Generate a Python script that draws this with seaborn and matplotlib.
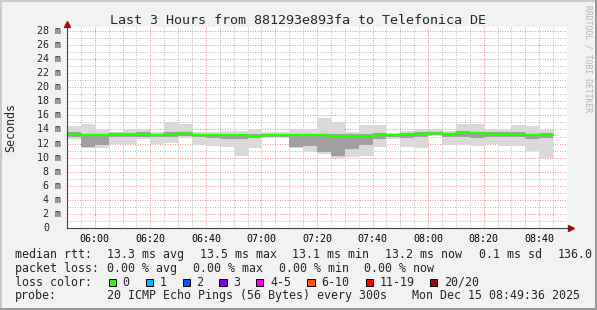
import numpy as np
import pandas as pd
import matplotlib
matplotlib.use("Agg")
import matplotlib.pyplot as plt
import matplotlib.transforms as mtransforms
from matplotlib.patches import Rectangle
from matplotlib.ticker import FixedLocator, MultipleLocator
import seaborn as sns

# ---------------- data (ms) ----------------
slot_start = ["05:50", "05:55", "06:00", "06:05", "06:10", "06:15", "06:20", "06:25",
              "06:30", "06:35", "06:40", "06:45", "06:50", "06:55", "07:00", "07:05",
              "07:10", "07:15", "07:20", "07:25", "07:30", "07:35", "07:40", "07:45",
              "07:50", "07:55", "08:00", "08:05", "08:10", "08:15", "08:20", "08:25",
              "08:30", "08:35", "08:40"]
median_ms = [13.35, 13.25, 13.25, 13.35, 13.35, 13.35, 13.2, 13.35, 13.45, 13.2,
             13.2, 13.15, 13.15, 13.1, 13.15, 13.15, 13.15, 13.25, 13.15, 13.1,
             13.1, 13.1, 13.25, 13.25, 13.3, 13.4, 13.45, 13.35, 13.5, 13.45,
             13.35, 13.4, 13.4, 13.15, 13.2]
min_ms = [12.6, 11.3, 11.4, 11.9, 11.9, 12.7, 11.9, 12.1, 12.8, 11.8,
          11.7, 11.5, 10.3, 11.3, 12.9, 12.9, 11.3, 10.8, 10.5, 10.0,
          10.1, 10.2, 11.5, 12.7, 11.5, 11.4, 13.1, 11.8, 11.8, 11.6,
          12.0, 11.7, 11.7, 11.0, 10.0]
lo_ms = [12.9, 11.5, 11.8, 12.9, 12.9, 13.0, 12.9, 13.0, 13.1, 12.9,
         12.8, 12.6, 12.7, 12.8, 12.9, 12.9, 11.5, 11.6, 10.8, 10.3,
         11.2, 11.8, 12.7, 12.9, 12.8, 12.9, 13.2, 12.9, 13.0, 12.8,
         12.9, 12.9, 12.9, 12.7, 12.8]
hi_ms = [13.6, 13.4, 13.4, 13.5, 13.5, 13.6, 13.4, 13.6, 13.6, 13.4,
         13.4, 13.4, 13.4, 13.3, 13.4, 13.4, 13.3, 13.4, 13.4, 13.3,
         13.3, 13.4, 13.5, 13.4, 13.5, 13.7, 13.7, 13.5, 13.8, 13.7,
         13.6, 13.6, 13.6, 13.4, 13.5]
max_ms = [14.5, 14.8, 14.0, 13.7, 14.0, 14.0, 13.7, 15.0, 14.8, 13.6,
          13.6, 13.8, 13.8, 14.0, 13.6, 13.6, 14.0, 14.0, 15.6, 15.1,
          13.7, 14.7, 14.6, 13.5, 13.8, 14.0, 14.0, 13.8, 14.8, 14.8,
          14.0, 13.9, 14.7, 14.5, 13.9]
time_ticks = ["06:00", "06:20", "06:40", "07:00", "07:20", "07:40", "08:00", "08:20", "08:40"]
y_ticks = [0, 2, 4, 6, 8, 10, 12, 14, 16, 18, 20, 22, 24, 26, 28]

loss_labels = ["0", "1", "2", "3", "4-5", "6-10", "11-19", "20/20"]
loss_colors = ["#26ff00", "#00b8ff", "#0059ff", "#7e00ff", "#ff00ff", "#ff5500", "#ff0000", "#a00000"]

title = "Last 3 Hours from 881293e893fa to Telefonica DE"
line1 = ["median rtt:", "13.3 ms avg", "13.5 ms max", "13.1 ms min", "13.2 ms now", "0.1 ms sd", "136.0"]
line2 = ["packet loss:", "0.00 % avg", "0.00 % max", "0.00 % min", "0.00 % now"]
line4 = ["probe:", "20 ICMP Echo Pings (56 Bytes) every 300s", "Mon Dec 15 08:49:36 2025"]

# ---------------- layout ----------------
W, H = 597, 310
BG = "#f2f2f2"
START = 5 * 60 + 50
SLOT = 5


def tmin(s):
    return int(s[:2]) * 60 + int(s[3:]) - START


sns.set_theme(style="white")
plt.rcParams["font.family"] = ["DejaVu Sans Mono", "DejaVu Sans"]

fig = plt.figure(figsize=(W / 100, H / 100), dpi=100, facecolor=BG)
ax = fig.add_axes([67 / W, (H - 228) / H, 500 / W, 201 / H])
ax.set_facecolor("white")
ax.set_xlim(0, 180)
ax.set_ylim(0, 201 / 7.036)

t = np.array([tmin(s) for s in slot_start])
t_edges = np.append(t, t[-1] + SLOT)


def ext(a):
    a = np.asarray(a, dtype=float)
    return np.append(a, a[-1])


ax.fill_between(t_edges, ext(min_ms), ext(max_ms), step="post", color="#d9d9d9", lw=0, zorder=1)
ax.fill_between(t_edges, ext(lo_ms), ext(hi_ms), step="post", color="#a0a0a0", lw=0, zorder=1.1)

line_df = pd.DataFrame({"t": t_edges, "rtt": ext(median_ms)})
sns.lineplot(data=line_df, x="t", y="rtt", drawstyle="steps-post", color="#26ff00",
             lw=1.7, ax=ax, zorder=3)
ax.set_xlabel("")
ax.set_ylabel("")

# grid (below the smoke)
ax.set_axisbelow(True)
ax.xaxis.set_major_locator(FixedLocator([tmin(s) for s in time_ticks]))
ax.xaxis.set_minor_locator(MultipleLocator(5))
ax.yaxis.set_major_locator(FixedLocator(y_ticks))
ax.yaxis.set_minor_locator(MultipleLocator(1))
ax.grid(which="minor", color="#bdbdbd", lw=0.72, ls=(0, (1, 1.5)))
ax.grid(which="major", color="#f09090", lw=0.72, ls=(0, (1, 1.5)))

ax.set_xticklabels(time_ticks, fontsize=7.2)
ax.set_yticklabels([])
ax.tick_params(axis="x", which="major", length=0, pad=4.6, colors="black")
ax.tick_params(axis="x", which="minor", length=0)
ax.tick_params(axis="y", which="major", length=2.6, width=0.72, color="#444444", pad=0)
ax.tick_params(axis="y", which="minor", length=0)

for side in ["top", "right"]:
    ax.spines[side].set_visible(False)
for side in ["left", "bottom"]:
    ax.spines[side].set_color("#444444")
    ax.spines[side].set_linewidth(0.8)
    ax.spines[side].set_zorder(4)

# y tick labels (pixel x, data y)
trans_y = mtransforms.blended_transform_factory(mtransforms.IdentityTransform(), ax.transData)
for v in y_ticks:
    if v == 0:
        ax.text(49, v, "0", transform=trans_y, ha="right", va="center", fontsize=7.2, clip_on=False)
    else:
        ax.text(61, v, f"{v} m", transform=trans_y, ha="right", va="center", fontsize=7.2, clip_on=False)


def px(x, y):
    return x / W, 1 - y / H


# arrows
fig.lines.append(plt.Line2D([px(67, 0)[0]], [px(0, 24)[1]], marker="^", markersize=4.2,
                            color="#9a1010", transform=fig.transFigure))
fig.lines.append(plt.Line2D([px(567, 0)[0], px(570, 0)[0]], [px(0, 228)[1]] * 2, lw=0.8,
                            color="#444444", transform=fig.transFigure))
fig.lines.append(plt.Line2D([px(571, 0)[0]], [px(0, 228)[1]], marker=">", markersize=4.2,
                            color="#9a1010", transform=fig.transFigure))

# title and labels
fig.text(*px(298, 24), title, ha="center", va="baseline", fontsize=9.6)
fig.text(*px(11, 127), "Seconds", rotation=90, ha="center", va="center", fontsize=8.4)
fig.text(*px(588, 5), "RRDTOOL / TOBI OETIKER", rotation=270, ha="center", va="top",
         fontsize=5.8, color="#b4b4b4")

# legend
LFS = 8.4
x1 = [16, 107.3, 201, 293, 386, 479.3, 558.3]
for s, x in zip(line1, x1):
    fig.text(*px(x - 0.7, 258), s, ha="left", va="baseline", fontsize=LFS)
x2 = [16, 107.3, 193.3, 279.3, 365]
for s, x in zip(line2, x2):
    fig.text(*px(x - 0.7, 271.7), s, ha="left", va="baseline", fontsize=LFS)
fig.text(*px(15.3, 285.5), "loss color:", ha="left", va="baseline", fontsize=LFS)
box_x = [108.7, 145.7, 182.7, 219.3, 256, 307.3, 366, 430]
lab_x = [123.3, 160.3, 197, 234, 270.7, 321.7, 380, 445]
for lab, col, bx, lx in zip(loss_labels, loss_colors, box_x, lab_x):
    fig.patches.append(Rectangle(px(bx, 286), 7.3 / W, 7.5 / H, transform=fig.transFigure,
                                 facecolor=col, edgecolor="black", lw=0.7))
    fig.text(*px(lx - 0.7, 285.5), lab, ha="left", va="baseline", fontsize=LFS)
x4 = [16, 107.3, 412.7]
for s, x in zip(line4, x4):
    fig.text(*px(x - 0.7, 299.3), s, ha="left", va="baseline", fontsize=LFS)

# 3D frame
fig.patches.append(Rectangle((0, 1 - 2 / H), 1, 2 / H, transform=fig.transFigure, color="#cbcbcb", lw=0))
fig.patches.append(Rectangle((0, 0), 2 / W, 1, transform=fig.transFigure, color="#cbcbcb", lw=0))
fig.patches.append(Rectangle((0, 0), 1, 2 / H, transform=fig.transFigure, color="#999999", lw=0))
fig.patches.append(Rectangle((1 - 2 / W, 0), 2 / W, 1, transform=fig.transFigure, color="#999999", lw=0))

fig.savefig("out.png", dpi=100, facecolor=BG)
